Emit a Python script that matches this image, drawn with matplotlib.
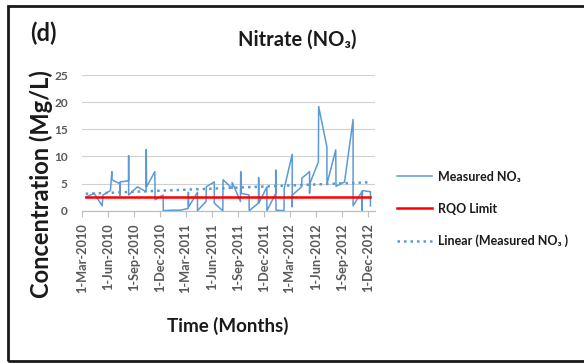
import datetime
import numpy as np
import matplotlib
matplotlib.use('Agg')
import matplotlib.pyplot as plt
import matplotlib.dates as mdates
import matplotlib.transforms as mtransforms
from matplotlib.patches import Rectangle

plt.rcParams['font.family'] = ['Lato', 'DejaVu Sans']

# measured nitrate (several samples share a month)
sample_dates = [
    '2010-03-15', '2010-04-14', '2010-05-12', '2010-05-15', '2010-06-10', '2010-06-15', '2010-06-15',
    '2010-07-13', '2010-07-13', '2010-07-14', '2010-08-13', '2010-08-13', '2010-08-13', '2010-09-13',
    '2010-10-13', '2010-10-14', '2010-10-15', '2010-11-13', '2010-11-14', '2010-12-12', '2010-12-13',
    '2011-01-13', '2011-02-11', '2011-03-10', '2011-03-11', '2011-03-12', '2011-04-12', '2011-04-12',
    '2011-05-12', '2011-05-13', '2011-06-10', '2011-06-10', '2011-07-10', '2011-07-11', '2011-08-12',
    '2011-08-12', '2011-09-10', '2011-09-11', '2011-09-12', '2011-10-10', '2011-10-11', '2011-11-12',
    '2011-11-13', '2011-11-14', '2011-12-12', '2011-12-12', '2012-01-12', '2012-01-12', '2012-01-13',
    '2012-02-10', '2012-02-11', '2012-03-10', '2012-03-10', '2012-03-11', '2012-04-12', '2012-04-13',
    '2012-05-10', '2012-05-10', '2012-05-11', '2012-06-10', '2012-06-11', '2012-07-10', '2012-07-10',
    '2012-08-10', '2012-08-11', '2012-09-10', '2012-10-10', '2012-10-10', '2012-11-10', '2012-11-11',
    '2012-11-12', '2012-12-10', '2012-12-10',
]
no3_values = [
    2.5, 3.2, 0.9, 2.9, 3.7, 7.2, 5.7,
    5.0, 2.8, 5.3, 5.5, 10.1, 2.9, 4.4,
    3.5, 11.3, 4.4, 7.2, 2.0, 2.9, 0.0,
    0.1, 0.1, 0.4, 3.4, 0.7, 3.4, 0.0,
    1.7, 4.4, 5.3, 1.4, 0.0, 5.7, 4.1,
    5.2, 1.7, 7.2, 3.2, 2.9, 0.0, 1.4,
    6.1, 1.4, 4.4, 0.0, 3.2, 7.5, 0.1,
    0.0, 4.1, 10.4, 0.7, 2.9, 4.4, 6.0,
    7.2, 3.2, 5.0, 9.0, 19.2, 11.7, 4.9,
    11.2, 4.5, 5.3, 16.8, 0.9, 3.5, 0.0,
    3.7, 3.5, 0.9,
]
rqo_limit = 2.5

tick_dates = ['2010-03-01', '2010-06-01', '2010-09-01', '2010-12-01', '2011-03-01', '2011-06-01',
              '2011-09-01', '2011-12-01', '2012-03-01', '2012-06-01', '2012-09-01', '2012-12-01']
y_ticks = [0, 5, 10, 15, 20, 25]

W, H = 584, 363
fig = plt.figure(figsize=(W / 100, H / 100), dpi=100)

def fx(px):
    return px / W

def fy(py):
    return 1 - py / H

ax = fig.add_axes([fx(81.7), fy(210.7), fx(375) - fx(81.7), fy(75) - fy(210.7)])

dates = [datetime.datetime.strptime(d, '%Y-%m-%d') for d in sample_dates]
xnum = mdates.date2num(dates)
blue = '#5B9BD5'
dark = '#1a1a1a'

ax.plot(xnum, no3_values, color=blue, lw=1.1, label='Measured NO\u2083', zorder=3)
ax.plot([xnum[0], xnum[-1]], [rqo_limit, rqo_limit], color='#FF0000', lw=1.8, label='RQO Limit', zorder=4)

# excel style linear trendline
coef = np.polyfit(xnum, no3_values, 1)
trend_x = np.array([xnum[0], xnum[-1]])
ax.plot(trend_x, np.polyval(coef, trend_x), color=blue, lw=1.8, ls=(0, (1, 1.6)),
        label='Linear (Measured NO\u2083 )', zorder=3)

ticks = mdates.date2num([datetime.datetime.strptime(d, '%Y-%m-%d') for d in tick_dates])
ax.set_xlim(ticks[0], mdates.date2num(datetime.datetime(2012, 12, 26)))
ax.set_ylim(0, 25)
ax.set_xticks(ticks)
ax.set_xticklabels(['1-' + datetime.datetime.strptime(d, '%Y-%m-%d').strftime('%b-%Y') for d in tick_dates],
                   rotation=90, fontsize=9.2, fontweight='bold', color='#595959')
ax.set_yticks(y_ticks)
ax.set_yticklabels([str(v) for v in y_ticks], fontsize=8.6, fontweight='bold', color='#595959')

offset = mtransforms.ScaledTranslation(4 / 100, 0, fig.dpi_scale_trans)
for lab in ax.get_xticklabels():
    lab.set_transform(lab.get_transform() + offset)

ax.tick_params(axis='x', direction='out', length=4, width=0.8, color='#BFBFBF', pad=5)
ax.tick_params(axis='y', length=0, pad=10)
ax.grid(axis='y', color='#D0D0D0', lw=0.8)
ax.set_axisbelow(True)
for s in ['top', 'right', 'left']:
    ax.spines[s].set_visible(False)
ax.spines['bottom'].set_color('#BFBFBF')
ax.spines['bottom'].set_linewidth(0.9)
ax.patch.set_alpha(0)

fig.text(fx(41), fy(184), 'Concentration (Mg/L)', rotation=90, ha='center', va='center',
         fontsize=17, fontweight='bold', color=dark)
fig.text(fx(228), fy(326), 'Time (Months)', ha='center', va='center',
         fontsize=13.5, fontweight='bold', color=dark)
fig.text(fx(297.5), fy(40), 'Nitrate (NO\u2083)', ha='center', va='center',
         fontsize=14.5, fontweight='bold', color=dark)
fig.text(fx(43), fy(33), '(d)', ha='center', va='center',
         fontsize=17, fontweight='bold', color=dark)

leg = fig.legend(loc='center left', bbox_to_anchor=(fx(386), fy(209)), frameon=False,
                 prop={'size': 9, 'weight': 'bold'}, handlelength=2.8, handletextpad=0.45,
                 labelspacing=1.6)
for t in leg.get_texts():
    t.set_color(dark)

# frame around the panel
fig.add_artist(Rectangle((fx(8), fy(361)), 1.2, fy(6) - fy(361), transform=fig.transFigure,
                         fill=False, edgecolor=dark, lw=2))

fig.savefig('out.png', dpi=100)
